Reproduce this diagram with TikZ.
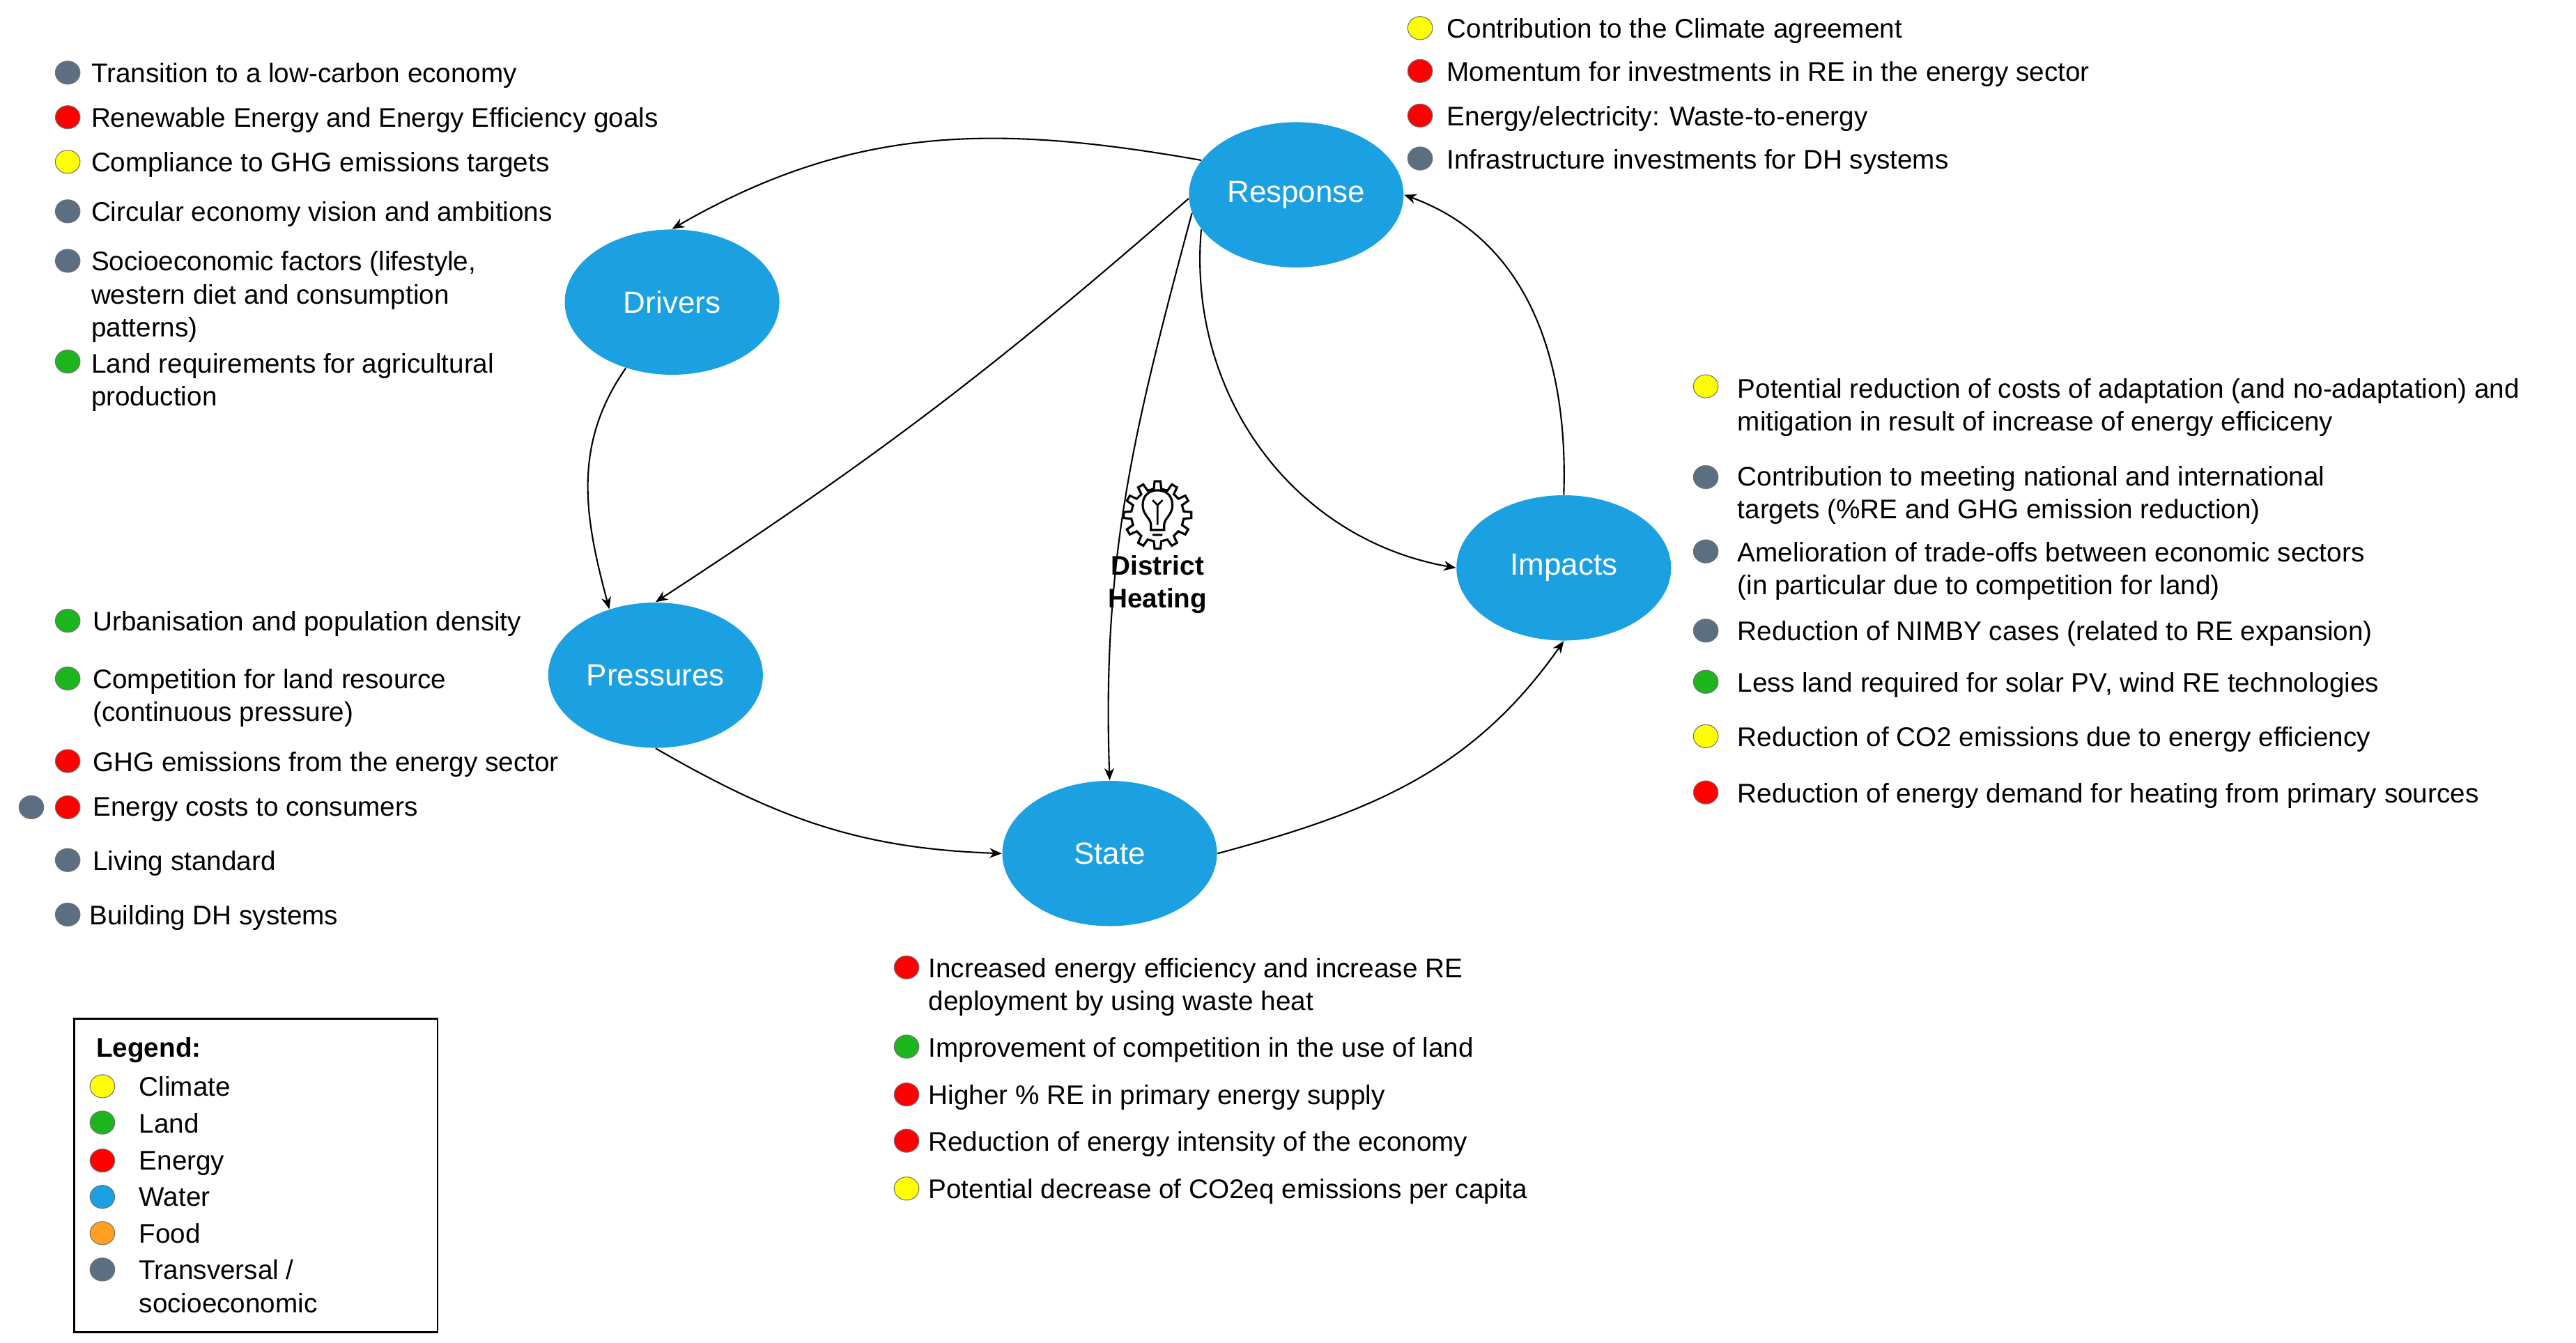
\documentclass[tikz,border=0pt]{standalone}
\usepackage{fontspec}
\setmainfont{Liberation Sans}
\usetikzlibrary{shapes.geometric,arrows.meta}
\definecolor{cblue}{HTML}{1BA1E2}
\definecolor{cgray}{HTML}{5B6E82}
\definecolor{cgreen}{HTML}{1DB51D}
\definecolor{cred}{HTML}{FF0000}
\definecolor{cyel}{HTML}{FFFF00}
\definecolor{corange}{HTML}{FFA020}
\newcommand\pdot[3]{\fill[#1,draw=black!55,line width=0.3pt] (#2,#3) ellipse (7.5 and 7);}
\begin{document}
\begin{tikzpicture}[x=0.0237cm,y=-0.0237cm,
  stage/.style={ellipse,fill=cblue,text=white,minimum width=130*0.0237cm,minimum height=88*0.0237cm,inner sep=0pt,font=\fontsize{12.5}{14}\selectfont},
  txt/.style={anchor=north west,inner sep=0pt,align=left,font=\fontsize{11}{13.4}\selectfont},
  arr/.style={-{Stealth[length=5pt,width=4pt]},line width=0.6pt}]
\useasboundingbox (0,0) rectangle (1560,813.5);
\fill[white] (0,0) rectangle (1560,813.5);
% stages
\node[stage] (resp) at (785,118) {Response};
\node[stage] (drv) at (407,183) {Drivers};
\node[stage] (pres) at (397,409) {Pressures};
\node[stage] (state) at (672,517) {State};
\node[stage] (imp) at (947,344) {Impacts};
% arrows
\draw[arr] (resp.160) to[out=170,in=30] (drv.north);
\draw[arr] (drv.235) to[out=235,in=105] (pres.125);
\draw[arr] (resp.182) to[bend left=4] (pres.north);
\draw[arr] (resp.190) to[out=255,in=92] (state.north);
\draw[arr] (resp.200) to[out=265,in=170] (imp.west);
\draw[arr] (pres.south) to[out=-30,in=178] (state.west);
\draw[arr] (state.east) to[out=15,in=235] (imp.south);
\draw[arr] (imp.north) to[out=88,in=-20] (resp.east);
% district heating icon
\draw[line width=0.9pt,shift={(701,312)}] (-8:16) \foreach \a in {0,30,...,330}{ -- (\a-8:16) -- (\a-5:20.5) -- (\a+5:20.5) -- (\a+8:16) -- (\a+22:16)} -- cycle;
\draw[line width=0.9pt] (697,321) -- (697,318) .. controls (697,314) and (692,312) .. (692,306) .. controls (692,300) and (696,297) .. (701,297) .. controls (706,297) and (710,300) .. (710,306) .. controls (710,312) and (705,314) .. (705,318) -- (705,321) -- cycle;
\draw[line width=0.8pt] (701,318) -- (701,306) (698,303) -- (701,306) -- (704,303) (698,324) -- (704,324);
\node[font=\bfseries\fontsize{11}{13.4}\selectfont,align=center,inner sep=0pt] (dh) at (701,354) {District\\Heating};
% drivers list
\pdot{cgray}{41}{44}\node[txt] (d1) at (55,38) {Transition to a low-carbon economy};
\pdot{cred}{41}{71}\node[txt] (d2) at (55,65) {Renewable Energy and Energy Efficiency goals};
\pdot{cyel}{41}{98}\node[txt] (d3) at (55,92) {Compliance to GHG emissions targets};
\pdot{cgray}{41}{128}\node[txt] (d4) at (55,122) {Circular economy vision and ambitions};
\pdot{cgray}{41}{158}\node[txt] (d5) at (55,152) {Socioeconomic factors (lifestyle,\\western diet and consumption\\patterns)};
\pdot{cgreen}{41}{219}\node[txt] (d6) at (55,214) {Land requirements for agricultural\\production};
% response list
\pdot{cyel}{860}{17}\node[txt] (r1) at (876,11) {Contribution to the Climate agreement};
\pdot{cred}{860}{43}\node[txt] (r2) at (876,37) {Momentum for investments in RE in the energy sector};
\pdot{cred}{860}{70}\node[txt] (r3) at (876,64) {Energy/electricity: Waste-to-energy};
\pdot{cgray}{860}{96}\node[txt] (r4) at (876,90) {Infrastructure investments for DH systems};
% impacts list
\pdot{cyel}{1033}{234}\node[txt] (i1) at (1052,229) {Potential reduction of costs of adaptation (and no-adaptation) and\\mitigation in result of increase of energy efficiceny};
\pdot{cgray}{1033}{289}\node[txt] (i2) at (1052,282) {Contribution to meeting national and international\\targets (\%RE and GHG emission reduction)};
\pdot{cgray}{1033}{334}\node[txt] (i3) at (1052,328) {Amelioration of trade-offs between economic sectors\\(in particular due to competition for land)};
\pdot{cgray}{1033}{382}\node[txt] (i4) at (1052,376) {Reduction of NIMBY cases (related to RE expansion)};
\pdot{cgreen}{1033}{413}\node[txt] (i5) at (1052,407) {Less land required for solar PV, wind RE technologies};
\pdot{cyel}{1033}{446}\node[txt] (i6) at (1052,440) {Reduction of CO2 emissions due to energy efficiency};
\pdot{cred}{1033}{480}\node[txt] (i7) at (1052,474) {Reduction of energy demand for heating from primary sources};
% pressures list
\pdot{cgreen}{41}{376}\node[txt] (p1) at (56,370) {Urbanisation and population density};
\pdot{cgreen}{41}{411}\node[txt] (p2) at (56,405) {Competition for land resource\\(continuous pressure)};
\pdot{cred}{41}{461}\node[txt] (p3) at (56,455) {GHG emissions from the energy sector};
\pdot{cgray}{19}{489}\pdot{cred}{41}{489}\node[txt] (p4) at (56,483) {Energy costs to consumers};
\pdot{cgray}{41}{521}\node[txt] (p5) at (56,515) {Living standard};
\pdot{cgray}{41}{554}\node[txt] (p6) at (54,548) {Building DH systems};
% state list
\pdot{cred}{549}{586}\node[txt] (s1) at (562,580) {Increased energy efficiency and increase RE\\deployment by using waste heat};
\pdot{cgreen}{549}{634}\node[txt] (s2) at (562,628) {Improvement of competition in the use of land};
\pdot{cred}{549}{663}\node[txt] (s3) at (562,657) {Higher \% RE in primary energy supply};
\pdot{cred}{549}{691}\node[txt] (s4) at (562,685) {Reduction of energy intensity of the economy};
\pdot{cyel}{549}{720}\node[txt] (s5) at (562,714) {Potential decrease of CO2eq emissions per capita};
% legend
\draw[line width=0.8pt] (45,617) rectangle (265,807);
\node[txt,font=\bfseries\fontsize{11}{13.4}\selectfont] (lg) at (58,628) {Legend:};
\pdot{cyel}{62}{658}\node[txt] (l1) at (84,652) {Climate};
\pdot{cgreen}{62}{680}\node[txt] (l2) at (84,674) {Land};
\pdot{cred}{62}{703}\node[txt] (l3) at (84,697) {Energy};
\pdot{cblue}{62}{725}\node[txt] (l4) at (84,719) {Water};
\pdot{corange}{62}{747}\node[txt] (l5) at (84,741) {Food};
\pdot{cgray}{62}{769}\node[txt] (l6) at (84,763) {Transversal /\\socioeconomic};
\end{tikzpicture}
\end{document}
